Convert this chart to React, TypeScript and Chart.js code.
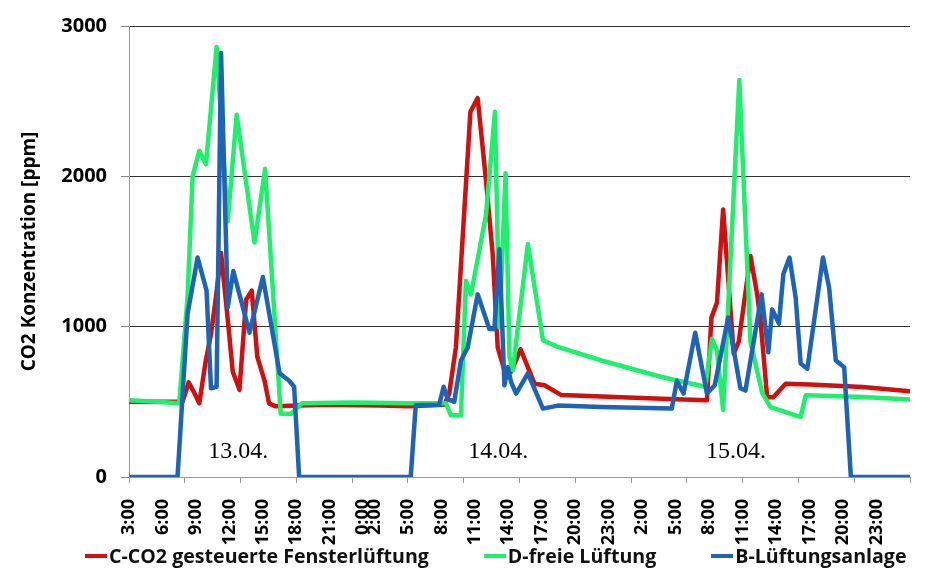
import { useEffect, useRef } from 'react';
import { Chart, registerables } from 'chart.js';

Chart.register(...registerables);

// x values are half-hour steps counted from 3:00 on 13.04.
const tickPositions = [0, 6, 12, 18, 24, 30, 36, 42, 44, 50, 56, 62, 68, 74, 80, 86, 92, 98, 104, 110, 116, 122, 128, 134];
const tickLabels = ['3:00', '6:00', '9:00', '12:00', '15:00', '18:00', '21:00', '0:00', '2:00', '5:00', '8:00', '11:00', '14:00', '17:00', '20:00', '23:00', '2:00', '5:00', '8:00', '11:00', '14:00', '17:00', '20:00', '23:00'];

const dayLabels = ['13.04.', '14.04.', '15.04.'];
const dayLabelX = [19.6, 66.2, 108.8];
const dayLabelY = 170;

const seriesNames = ['C-CO2 gesteuerte Fensterlüftung', 'D-freie Lüftung', 'B-Lüftungsanlage'];
const seriesColors = ['#d01010', '#1ef06c', '#1f64b4'];

const redX = [0, 5, 9.6, 10.7, 11.7, 12.6, 13.7, 14.7, 15.6, 16.5, 17.7, 18.6, 19.8, 21, 22, 23, 24.3, 25.1, 26.3, 35, 45, 50, 56.5, 57.4, 58.6, 61.2, 62.5, 64, 65.2, 66.1, 67.3, 68.5, 70.2, 72.7, 74.5, 77.5, 84.7, 95.5, 103.6, 104.4, 105.4, 106.5, 108.4, 109.3, 111.4, 112.6, 113.2, 114.4, 115.5, 117.7, 122, 131.5, 140];
const redY = [500, 500, 500, 630, 560, 490, 760, 950, 1200, 1490, 1050, 700, 580, 1180, 1240, 800, 640, 490, 470, 480, 475, 470, 480, 555, 863, 2430, 2520, 1970, 1480, 860, 710, 700, 850, 620, 610, 545, 535, 520, 510, 1060, 1160, 1780, 820, 900, 1470, 1215, 1040, 530, 530, 620, 615, 598, 570];

const greenX = [0, 5, 9, 10.5, 11.4, 12.6, 13.8, 15.7, 17.7, 19.3, 22.5, 24.4, 27.2, 29, 31, 40, 50, 56.8, 57.7, 59.5, 60.4, 61.3, 64, 65.6, 66.4, 67.5, 68.2, 68.8, 71.5, 74.2, 76.9, 84.7, 95.5, 103.3, 104.5, 105.4, 106.5, 109.4, 111.4, 113.5, 115, 119.5, 120.4, 121.3, 131.5, 140];
const greenY = [510, 500, 490, 1200, 2000, 2170, 2080, 2860, 1700, 2410, 1560, 2050, 420, 420, 490, 495, 490, 490, 410, 410, 1305, 1215, 1745, 2430, 995, 2020, 800, 710, 1550, 910, 865, 775, 665, 600, 920, 840, 445, 2640, 900, 560, 465, 410, 400, 543, 532, 515];

const blueX = [0, 8.7, 10.5, 12.3, 13.9, 14.7, 15.7, 16.5, 17.7, 18.7, 21.6, 24, 27, 28.7, 29.6, 30.5, 50.5, 51.4, 55.6, 56.4, 57.1, 58.3, 59.5, 60.7, 62.5, 64.6, 65.5, 66.4, 67.3, 67.9, 68.5, 69.4, 71.5, 74.2, 76.9, 84.7, 97.3, 98.2, 99.4, 101.5, 103.6, 105, 107.4, 109.6, 110.5, 113.4, 114.6, 115.3, 116.5, 117.3, 118.4, 119.5, 120.4, 121.6, 124.4, 125.5, 126.7, 128.2, 129.4, 140];
const blueY = [0, 0, 1085, 1460, 1240, 590, 600, 2820, 1130, 1370, 960, 1330, 690, 640, 600, 0, 0, 477, 480, 600, 520, 500, 775, 860, 1215, 985, 985, 1515, 610, 730, 630, 555, 690, 455, 475, 465, 455, 640, 555, 960, 555, 610, 1060, 590, 575, 1215, 830, 1115, 1020, 1350, 1460, 1195, 755, 720, 1460, 1260, 775, 730, 0, 0];

const toPoints = (xs: number[], ys: number[]) => xs.map((x, i) => ({ x, y: ys[i] }));

const dayLabelPlugin = {
  id: 'dayLabels',
  afterDatasetsDraw(chart: Chart) {
    const { ctx, scales } = chart;
    ctx.save();
    ctx.font = '24px "Liberation Serif"';
    ctx.fillStyle = '#000';
    ctx.textAlign = 'center';
    ctx.textBaseline = 'middle';
    dayLabels.forEach((label, i) => {
      ctx.fillText(label, scales.x.getPixelForValue(dayLabelX[i]), scales.y.getPixelForValue(dayLabelY));
    });
    ctx.restore();
  }
};

export default function App() {
  const canvasRef = useRef<HTMLCanvasElement>(null);

  useEffect(() => {
    document.body.style.margin = '0';
    if (!canvasRef.current) return;
    Chart.defaults.font.family = '"Open Sans"';

    const lineStyle = {
      borderWidth: 4.5,
      pointRadius: 0,
      tension: 0,
      borderJoinStyle: 'round' as const,
      borderCapStyle: 'round' as const,
      fill: false
    };

    const chart = new Chart(canvasRef.current, {
      type: 'line',
      data: {
        datasets: [
          { label: seriesNames[0], data: toPoints(redX, redY), borderColor: seriesColors[0], order: 3, ...lineStyle },
          { label: seriesNames[1], data: toPoints(greenX, greenY), borderColor: seriesColors[1], order: 2, ...lineStyle },
          { label: seriesNames[2], data: toPoints(blueX, blueY), borderColor: seriesColors[2], order: 1, ...lineStyle }
        ]
      },
      options: {
        responsive: false,
        animation: false,
        layout: { padding: { top: 24, right: 30, left: 0, bottom: 0 } },
        plugins: {
          legend: { display: false },
          tooltip: { enabled: false }
        },
        scales: {
          x: {
            type: 'linear',
            min: 0,
            max: 140,
            weight: 0,
            ticks: { stepSize: 10, display: false },
            grid: { drawOnChartArea: false, tickLength: 6, color: '#999' },
            border: { color: '#999', width: 1 },
            afterFit: (scale: any) => { scale.height = 6; }
          },
          x2: {
            type: 'linear',
            position: 'bottom',
            min: 0,
            max: 140,
            weight: 1,
            grid: { display: false },
            border: { display: false },
            afterBuildTicks: (scale: any) => {
              scale.ticks = tickPositions.map(v => ({ value: v }));
            },
            ticks: {
              autoSkip: false,
              minRotation: 90,
              maxRotation: 90,
              padding: 8,
              color: '#000',
              font: { size: 18, weight: 'bold' },
              callback: (_v: any, i: number) => tickLabels[i]
            },
            afterFit: (scale: any) => { scale.height = 100; }
          },
          y: {
            min: 0,
            max: 3000,
            ticks: {
              stepSize: 1000,
              padding: 14,
              color: '#000',
              font: { size: 20, weight: 'bold' },
              callback: (v: any) => String(v)
            },
            grid: {
              color: (c: any) => (c.tick && c.tick.value === 0 ? 'rgba(0,0,0,0)' : '#333'),
              tickColor: '#888',
              tickLength: 8,
              lineWidth: 1
            },
            border: { color: '#999', width: 1 },
            title: {
              display: true,
              text: 'CO2 Konzentration [ppm]',
              color: '#000',
              font: { size: 19, weight: 'bold' },
              padding: { top: 18, bottom: 0 }
            },
            afterFit: (scale: any) => { scale.width = 129; }
          }
        }
      },
      plugins: [dayLabelPlugin]
    });

    return () => chart.destroy();
  }, []);

  return (
    <div style={{ position: 'relative', width: 940, height: 583, background: '#fff' }}>
      <canvas ref={canvasRef} width={940} height={583} />
      <div
        style={{
          position: 'absolute',
          top: 542,
          left: 85,
          display: 'flex',
          alignItems: 'center',
          fontFamily: '"Open Sans"',
          fontWeight: 'bold',
          fontSize: 19.6,
          color: '#111',
          whiteSpace: 'nowrap'
        }}
      >
        {seriesNames.map((name, i) => (
          <div key={name} style={{ display: 'flex', alignItems: 'center', marginRight: 55 }}>
            <span style={{ display: 'inline-block', width: 22, height: 4, background: seriesColors[i], marginRight: 2 }} />
            <span>{name}</span>
          </div>
        ))}
      </div>
    </div>
  );
}
